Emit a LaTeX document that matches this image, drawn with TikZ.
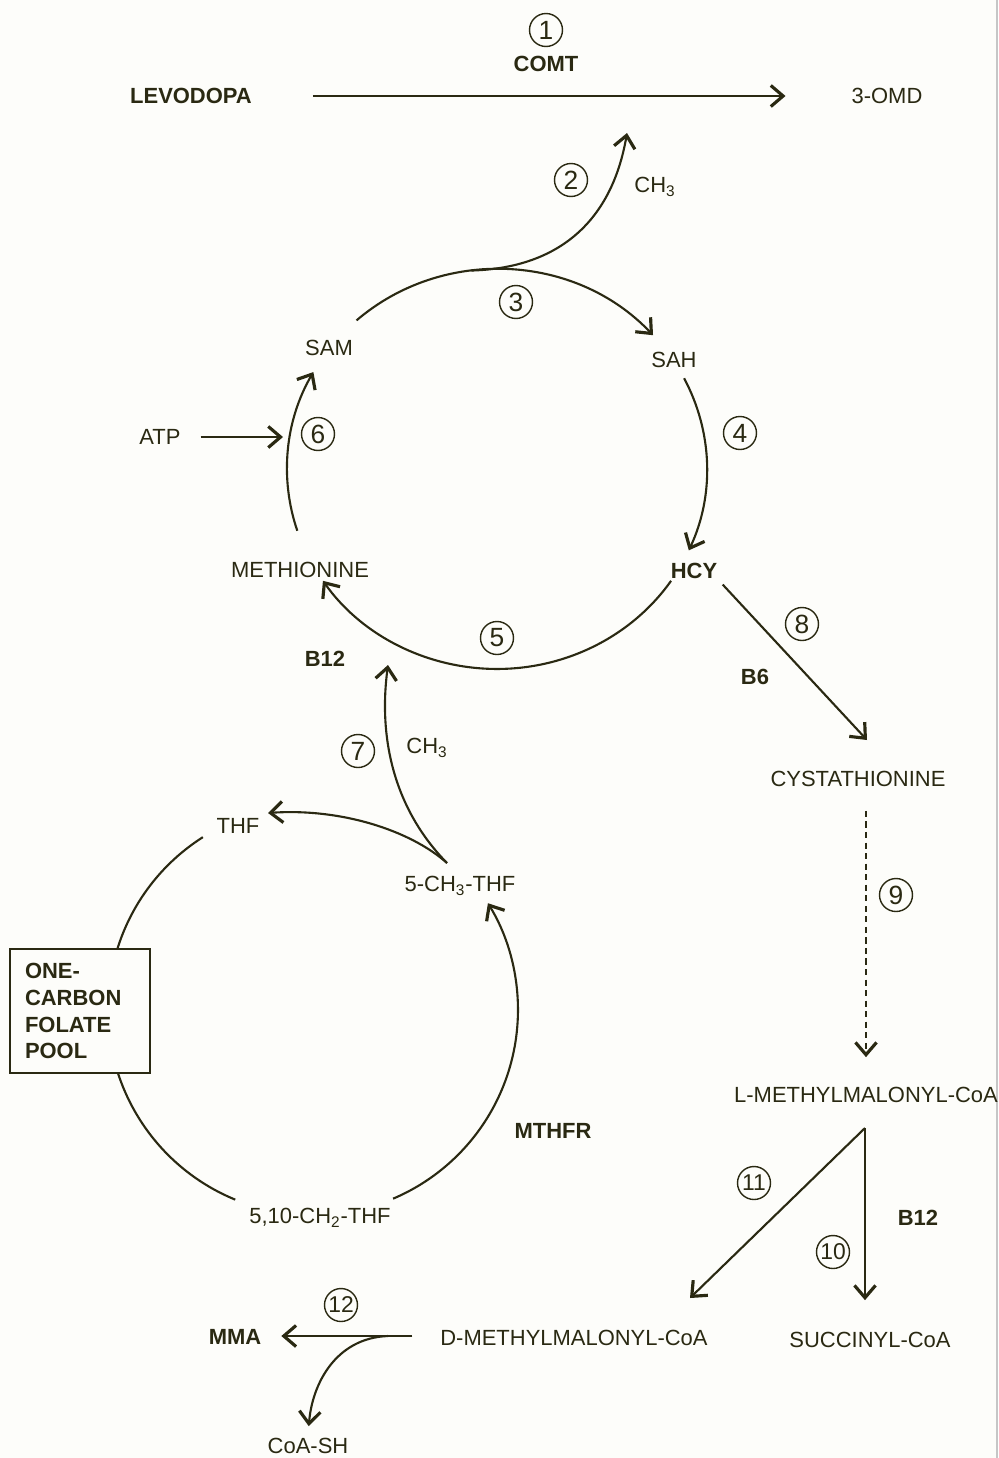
\documentclass[tikz,border=0pt]{standalone}
\usepackage{fontspec}
\setmainfont{Liberation Sans}
\usetikzlibrary{arrows.meta, calc, positioning}
\definecolor{ink}{HTML}{2A2912}
\definecolor{paper}{HTML}{FDFDFA}

\begin{document}
\begin{tikzpicture}[x=0.02cm, y=0.02cm]

    % Styles for the pathway
    \tikzstyle{txt} = [text=ink, font=\fontsize{12.5}{14}\selectfont, inner sep=1pt]
    \tikzstyle{boldtxt} = [txt, font=\fontsize{12.5}{14}\selectfont\bfseries]
    \tikzstyle{numcirc} = [circle, draw=ink, line width=0.8pt, minimum size=0.66cm,
                           inner sep=0pt, text=ink, font=\fontsize{15}{15}\selectfont]
    \tikzstyle{numcirctwo} = [numcirc, font=\fontsize{13}{13}\selectfont]
    \tikzstyle{ring} = [draw=ink, line width=1.2pt]
    \tikzstyle{flow} = [ring, -{Straight Barb[length=7pt,width=12pt,line width=1.8pt]}]
    \tikzstyle{poolbox} = [rectangle, draw=ink, line width=1.4pt, fill=paper, text=ink,
                           text width=2.2cm, inner xsep=0.3cm, minimum height=2.48cm,
                           align=left, font=\fontsize{12.5}{15.3}\selectfont\bfseries]

    % Page
    \fill[paper] (0,0) rectangle (998,-1458);
    \useasboundingbox (0,0) rectangle (998,-1458);
    \draw[gray!45, line width=0.6pt] (997,0) -- (997,-1458);

    % COMT step
    \node[numcirc] (n1) at (546,-30) {1};
    \node[boldtxt] (comt) at (546,-64) {COMT};
    \node[boldtxt] (levodopa) at (191,-96) {LEVODOPA};
    \node[txt] (omd) at (887,-96) {3-OMD};
    \draw[flow, shorten <=1.18cm, shorten >=1.28cm] (levodopa) -- (omd);

    % Methionine cycle
    \coordinate (mc) at (497,-469);
    \coordinate (mtop) at ($(mc)+(97:4.2cm and 4cm)$);
    \coordinate (ch3out) at (627,-133);
    \node[numcirc] (n2) at (571,-180) {2};
    \node[txt] (ch3a) at (655,-187) {CH\textsubscript{3}};
    \draw[flow] (mtop) .. controls (560,-268) and (612,-220) .. (ch3out);

    \node[txt] (sam) at (329,-348) {SAM};
    \node[txt] (sah) at (674,-360) {SAH};
    \node[txt] (methionine) at (300,-570) {METHIONINE};
    \node[boldtxt] (hcy) at (694,-571) {HCY};
    \node[numcirc] (n3) at (516,-302) {3};
    \node[numcirc] (n4) at (740,-433) {4};
    \node[numcirc] (n5) at (497,-638) {5};
    \node[numcirc] (n6) at (318,-434) {6};
    \node[boldtxt] (b12a) at (325,-659) {B12};

    \draw[flow] ($(mc)+(132:4.2cm and 4cm)$) arc[start angle=132, end angle=42, x radius=4.2cm, y radius=4cm];
    \draw[flow] ($(mc)+(27:4.2cm and 4cm)$) arc[start angle=27, end angle=-24, x radius=4.2cm, y radius=4cm];
    \draw[flow] ($(mc)+(-34:4.2cm and 4cm)$) arc[start angle=-34, end angle=-146, x radius=4.2cm, y radius=4cm];
    \draw[flow] ($(mc)+(198:4.2cm and 4cm)$) arc[start angle=198, end angle=151, x radius=4.2cm, y radius=4cm];

    % ATP input
    \node[txt] (atp) at (160,-437) {ATP};
    \coordinate (atpin) at (283,-437);
    \draw[flow, shorten <=0.36cm] (atp) -- (atpin);

    % Folate cycle
    \coordinate (fc) at (313,-1010);
    \node[txt] (thf) at (238,-826) {THF};
    \node[txt] (mthf) at (460,-886) {5-CH\textsubscript{3}-THF};
    \node[txt] (mlthf) at (320,-1218) {5,10-CH\textsubscript{2}-THF};
    \node[boldtxt] (mthfr) at (553,-1131) {MTHFR};
    \coordinate (fsplit) at (447,-863);
    \coordinate (thfin) at (268,-813);
    \coordinate (b12in) at (388,-665);
    \node[numcirc] (n7) at (358,-751) {7};
    \node[txt] (ch3b) at (427,-748) {CH\textsubscript{3}};
    \draw[flow] (fsplit) .. controls (395,-810) and (378,-740) .. (b12in);
    \draw[flow] (fsplit) .. controls (410,-830) and (340,-808) .. (thfin);

    \draw[ring] ($(fc)+(122.5:4.1cm)$) arc[start angle=122.5, end angle=247.7, radius=4.1cm];
    \draw[flow] ($(fc)+(-67:4.1cm)$) arc[start angle=-67, end angle=31.4, radius=4.1cm];
    \node[poolbox] (pool) at (80,-1011) {ONE-\\CARBON\\FOLATE\\POOL};

    % Transsulfuration branch
    \node[numcirc] (n8) at (802,-624) {8};
    \node[boldtxt] (b6) at (755,-677) {B6};
    \node[txt] (cyst) at (858,-779) {CYSTATHIONINE};
    \coordinate (cystin) at (867,-740);
    \draw[flow, shorten <=0.1cm] (hcy.south east) -- (cystin);

    \node[numcirc] (n9) at (896,-895) {9};
    \node[txt] (lmm) at (866,-1095) {L-METHYLMALONYL-CoA};
    \draw[flow, dash pattern=on 3.5pt off 2.5pt, shorten <=0.44cm, shorten >=0.56cm]
        (cyst.south -| lmm.north) -- (lmm.north);

    % Methylmalonyl branch
    \coordinate (split) at (865,-1128);
    \node[txt] (succ) at (870,-1340) {SUCCINYL-CoA};
    \node[txt] (dmm) at (574,-1338) {D-METHYLMALONYL-CoA};
    \coordinate (dmmin) at (690,-1298);
    \node[numcirctwo] (n10) at (833,-1252) {10};
    \node[numcirctwo] (n11) at (754,-1183) {11};
    \node[boldtxt] (b12b) at (918,-1218) {B12};
    \draw[flow, shorten >=0.6cm] (split) -- (split |- succ.north);
    \draw[flow] (split) -- (dmmin);

    % MMA step
    \node[boldtxt] (mma) at (235,-1337) {MMA};
    \node[numcirctwo] (n12) at (341,-1305) {12};
    \node[txt] (coash) at (308,-1446) {CoA-SH};
    \coordinate (brk) at (388,-1336);
    \draw[flow, shorten <=0.52cm, shorten >=0.36cm] (dmm.west |- brk) -- (mma.east |- brk);
    \draw[flow, shorten >=0.2cm] (brk) .. controls (335,-1338) and (312,-1385) .. (coash.north);

\end{tikzpicture}
\end{document}
